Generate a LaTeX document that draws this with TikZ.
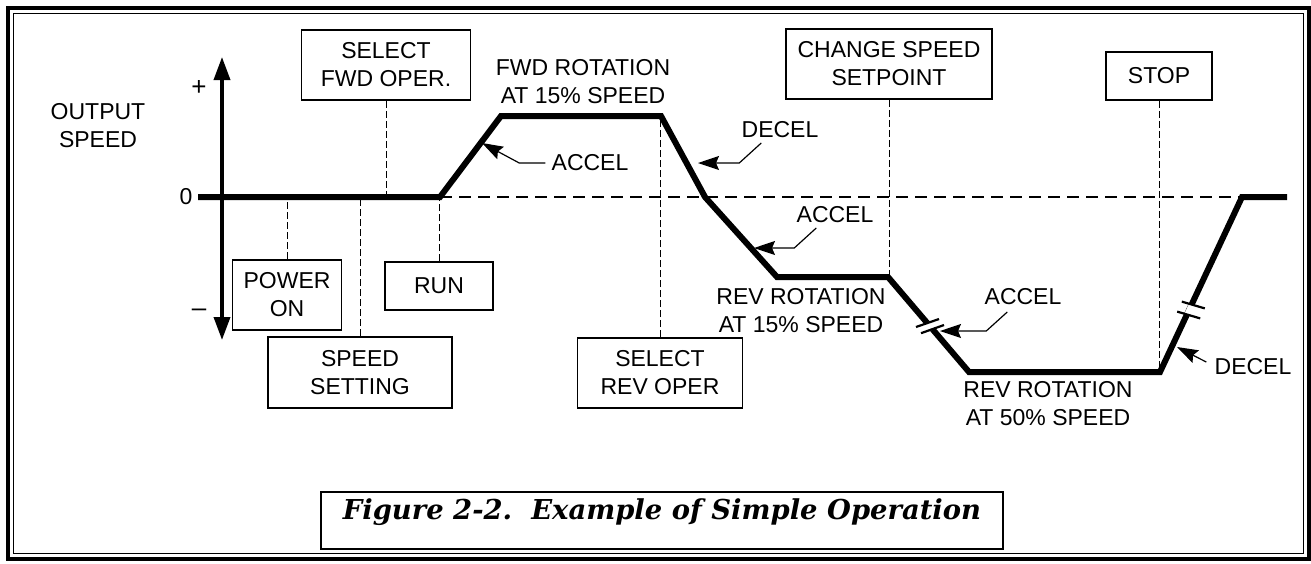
\documentclass[tikz,border=0pt]{standalone}
\usepackage{fontspec}
\setmainfont{Liberation Sans}
\newfontfamily\capfont{DejaVu Serif}
\usetikzlibrary{arrows.meta}

\begin{document}
\begin{tikzpicture}[x=0.5pt,y=-0.5pt,
  font=\fontsize{11.5}{14}\selectfont,
  profile/.style={line width=3pt},
  zeroline/.style={line width=1.2pt, dash pattern=on 6pt off 3.5pt},
  guide/.style={line width=0.5pt, dash pattern=on 3.5pt off 1.5pt},
  eventbox/.style={draw, line width=0.8pt, align=center, inner sep=0pt},
  tag/.style={align=center, inner sep=3pt},
  callout/.style={line width=0.6pt, -{Stealth[length=10.5pt,width=7pt,inset=1.5pt]}},
  gap/.style={white, line width=4.5pt},
  brk/.style={line width=1.1pt}]

\useasboundingbox (0,0) rectangle (1311,563);

% frame
\draw[line width=2pt] (8,8) rectangle (1308.5,559);
\draw[line width=0.7pt] (13.5,13.5) rectangle (1303.5,553.5);

% speed profile points
\coordinate (p0) at (198,197);
\coordinate (p1) at (440,197);
\coordinate (p2) at (501,116);
\coordinate (p3) at (661,116);
\coordinate (p4) at (705,197);
\coordinate (p5) at (777,277);
\coordinate (p6) at (888,277);
\coordinate (p7) at (969,372);
\coordinate (p8) at (1160,372);
\coordinate (p9) at (1242,197);
\coordinate (p10) at (1287,197);

% axis
\coordinate (ytop) at (222,57);
\coordinate (ybot) at (222,340);
\draw[line width=1.8pt, {Triangle[length=11.5pt,width=8pt]}-{Triangle[length=11.5pt,width=8pt]}] (ybot) -- (ytop);

\node[tag] (ylab) at (98,126) {OUTPUT\\SPEED};
\node[tag, font=\fontsize{13}{14}\selectfont] (plus) at (199,88) {+};
\node[tag] (zero) at (186,197) {0};
\node[tag, font=\fontsize{13}{14}\selectfont] (minus) at (199,313) {–};

% event boxes
\node[eventbox, minimum width=84.5pt, minimum height=35pt] (fwdsel) at (386,65) {SELECT\\FWD OPER.};
\node[eventbox, minimum width=103pt, minimum height=35pt] (chg) at (889,64) {CHANGE SPEED\\SETPOINT};
\node[eventbox, minimum width=53pt, minimum height=24pt] (stop) at (1159,76) {STOP};
\node[eventbox, minimum width=54.5pt, minimum height=35pt] (pwr) at (287,295) {POWER\\ON};
\node[eventbox, minimum width=54pt, minimum height=24pt] (run) at (439,286) {RUN};
\node[eventbox, minimum width=92pt, minimum height=35.5pt] (spd) at (360,372.5) {SPEED\\SETTING};
\node[eventbox, minimum width=82.5pt, minimum height=35pt] (revsel) at (660,373) {SELECT\\REV OPER};

\draw[guide] (fwdsel.south) -- (fwdsel.south |- p0);
\draw[guide] (chg.south) -- (chg.south |- p6);
\draw[guide] (stop.south) -- (stop.south |- p8);
\draw[guide] (pwr.north) -- (pwr.north |- p0);
\draw[guide] (run.north) -- (run.north |- p1);
\draw[guide] (spd.north) -- (spd.north |- p0);
\draw[guide] (revsel.north) -- (revsel.north |- p3);

\draw[zeroline] (p1) -- (p9);
\draw[profile] (p0) -- (p1) -- (p2) -- (p3) -- (p4) -- (p5) -- (p6) -- (p7) -- (p8) -- (p9) -- (p10);

% breaks in the ramps
\draw[gap] (927.4,322.9) -- (932.6,329.1);
\draw[brk] (916,327) -- (939,319);
\draw[brk] (921,333.2) -- (944,325);
\draw[gap] (1193.3,305) -- (1188.7,315);
\draw[brk] (1181.8,301.6) -- (1204.8,308.4);
\draw[brk] (1177.2,311.6) -- (1200.2,318.4);

% state labels
\node[tag] (fwdrot) at (583,82) {FWD ROTATION\\AT 15\% SPEED};
\node[tag] (rev15) at (801,311) {REV ROTATION\\AT 15\% SPEED};
\node[tag] (rev50) at (1048,404) {REV ROTATION\\AT 50\% SPEED};

\node[tag] (acc1) at (590,163) {ACCEL};
\node[tag] (dec1) at (780,130) {DECEL};
\node[tag] (acc2) at (835,215) {ACCEL};
\node[tag] (acc3) at (1023,297) {ACCEL};
\node[tag] (dec2) at (1253,367) {DECEL};

\coordinate (a1tip) at (482,143);
\coordinate (d1tip) at (698,163);
\coordinate (a2tip) at (754,248);
\coordinate (a3tip) at (940,331);
\coordinate (d2tip) at (1177,347);

\draw[callout] (acc1.west) -- ++(-26,0) -- (a1tip);
\draw[callout] ([shift={(26,13)}]dec1.west) -- ++(-22,20) -- (d1tip);
\draw[callout] ([shift={(26,13)}]acc2.west) -- ++(-22,20) -- (a2tip);
\draw[callout] ([shift={(29,15)}]acc3.west) -- ++(-21,19) -- (a3tip);
\draw[callout] ([shift={(-2,-5)}]dec2.west) -- (d2tip);

% caption
\node[draw, line width=1pt, minimum width=341pt, text height=13.5pt, text depth=15pt, inner ysep=0pt,
  font=\capfont\bfseries\itshape\fontsize{13.7}{15}\selectfont] (cap) at (662,520.5) {Figure 2-2.\ \ Example of Simple Operation};

\end{tikzpicture}
\end{document}
